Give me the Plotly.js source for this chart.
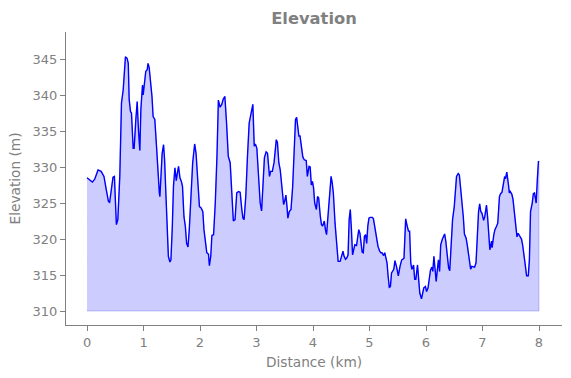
<!DOCTYPE html>
<html>
<head>
<meta charset="utf-8">
<script src="https://cdn.plot.ly/plotly-3.0.1.min.js"></script>
<style>html,body{margin:0;padding:0;background:#fff;}#chart{width:571px;height:378px;}</style>
</head>
<body>
<div id="chart"></div>
<script>
var distanceKm = [
0.00,0.05,0.095,0.136,0.195,0.25,0.30,0.34,0.38,0.40,0.43,0.46,0.485,0.52,0.545,0.58,0.61,0.64,0.68,0.71,
0.73,0.746,0.77,0.787,0.817,0.834,0.864,0.888,0.91,0.935,0.953,0.982,0.994,1.01,1.04,1.065,1.08,1.10,1.12,1.15,
1.17,1.20,1.23,1.254,1.28,1.29,1.31,1.33,1.355,1.373,1.40,1.42,1.44,1.467,1.485,1.51,1.53,1.556,1.58,1.60,
1.62,1.645,1.67,1.69,1.716,1.74,1.763,1.787,1.81,1.84,1.87,1.905,1.93,1.96,1.99,2.02,2.05,2.07,2.095,2.12,
2.15,2.166,2.19,2.21,2.24,2.27,2.30,2.325,2.355,2.385,2.41,2.44,2.47,2.50,
2.534,2.56,2.59,2.62,2.65,2.68,2.71,2.74,2.76,2.78,2.81,2.84,2.87,2.90,2.935,2.96,2.98,3.006,3.035,3.065,
3.09,3.11,3.14,3.17,3.195,3.22,3.23,3.25,3.28,3.31,3.33,3.35,3.37,3.395,3.42,3.45,3.48,3.50,3.52,3.54,
3.555,3.58,3.61,3.64,3.67,3.69,3.71,3.73,3.75,3.77,3.80,3.82,3.845,3.88,3.90,3.93,3.95,3.97,3.99,4.01,
4.03,4.06,4.08,4.10,4.13,4.15,4.17,4.20,4.22,4.24,4.26,4.29,4.32,4.34,4.36,4.39,4.42,4.445,4.48,4.51,
4.53,4.55,4.575,4.60,4.62,4.64,4.66,4.68,4.70,4.72,4.74,4.77,4.79,4.81,4.83,4.85,4.87,4.89,4.91,4.93,
4.95,4.97,4.99,5.01,5.05,5.07,5.09,5.12,5.15,5.18,5.20,5.22,5.25,5.27,5.29,5.31,5.33,5.35,5.37,5.39,
5.43,5.45,5.48,5.51,5.54,
5.57,5.61,5.64,5.67,5.69,5.71,5.73,5.75,5.78,5.80,5.82,5.85,5.87,5.89,5.92,5.94,5.96,5.99,6.01,6.035,
6.06,6.08,6.105,6.12,6.14,6.16,6.18,6.20,6.22,6.24,6.26,6.29,6.31,6.33,6.35,6.38,6.40,6.42,6.45,6.47,
6.50,6.52,6.54,6.57,6.59,6.61,6.64,6.66,6.68,6.71,6.73,6.76,6.79,6.81,6.84,6.86,6.885,6.91,6.93,6.95,
6.97,6.99,7.02,7.04,7.07,7.09,7.115,7.13,7.16,7.17,7.20,7.22,7.25,7.27,7.30,7.32,7.345,7.37,7.39,7.41,
7.43,7.46,7.475,7.49,7.52,7.54,7.56,7.59,7.61,7.63,7.66,7.69,7.71,7.73,7.76,7.78,7.81,7.83,7.85,7.88,
7.90,7.92,7.95,7.97,7.99,8.00
];
var elevationM = [
328.5,328.2,327.9,328.3,329.6,329.4,328.7,326.9,325.2,325.1,326.9,328.6,328.7,322.0,322.7,328.7,338.9,340.7,345.3,345.1,
344.4,339.4,337.7,337.5,332.6,332.6,336.6,339.1,335.2,332.3,338.0,341.4,340.0,341.0,343.3,343.5,344.4,343.8,342.4,339.8,
337.0,336.6,332.9,328.7,326.4,325.9,330.3,331.9,333.1,331.0,325.5,320.4,317.6,316.8,317.1,321.8,327.3,329.9,328.1,329.2,
330.1,328.5,328.0,327.3,323.1,321.8,319.4,318.9,321.3,325.9,330.6,333.2,331.9,328.2,324.5,324.3,323.8,321.3,319.4,318.1,
317.9,316.3,317.6,320.5,320.6,325.0,331.5,339.3,338.3,338.7,339.4,339.8,336.1,331.5,
330.6,327.3,322.5,322.7,326.4,326.6,326.5,324.1,322.9,322.7,325.9,331.5,336.1,337.3,338.7,332.9,333.2,332.6,328.7,325.0,
323.9,326.9,331.3,332.1,331.9,329.6,328.7,329.4,329.4,330.6,332.2,333.8,333.4,330.6,329.6,327.5,324.8,325.3,326.1,324.5,
322.9,323.8,324.1,327.3,333.8,336.6,336.9,335.2,334.3,334.3,332.4,331.4,331.0,330.9,328.7,330.1,330.0,327.5,328.0,327.1,
325.0,324.1,325.9,325.7,323.1,322.0,321.8,322.5,321.3,320.6,322.7,326.2,328.7,327.8,326.4,322.2,319.0,316.9,316.9,317.6,
318.3,317.6,317.2,317.4,317.8,322.7,324.1,321.3,317.8,318.5,319.2,319.1,320.0,321.3,320.8,319.0,318.2,318.1,320.4,320.6,
319.4,321.8,322.9,323.0,323.0,322.8,321.8,319.9,319.0,318.3,318.1,318.1,317.7,318.1,317.4,316.7,314.8,313.3,313.4,315.3,
315.8,317.0,316.1,314.9,316.2,
317.1,317.3,322.8,321.7,321.1,321.1,316.7,315.8,316.4,314.4,314.4,316.4,314.8,312.5,311.7,312.3,313.2,313.4,312.7,313.2,
314.6,315.7,316.1,315.5,317.6,316.2,314.1,315.7,317.1,315.5,319.2,320.0,320.4,320.7,319.7,317.1,316.0,315.6,319.0,322.7,
324.5,327.3,328.7,329.1,328.9,327.3,325.2,323.1,320.7,320.1,319.2,317.6,315.8,316.2,316.1,316.1,316.7,321.3,323.8,324.9,
323.8,323.6,322.6,323.1,324.7,323.1,320.4,318.5,319.7,318.8,320.6,321.3,321.8,322.2,325.9,326.3,326.5,327.5,328.6,328.5,
329.3,327.5,326.4,326.6,326.2,325.5,323.8,321.8,320.3,320.8,320.3,320.0,319.2,317.6,316.2,314.9,314.9,317.1,323.8,325.0,
326.3,326.4,325.0,328.2,330.8,330.7
];
var baseElevation = 310;
var xTicks = [0,1,2,3,4,5,6,7,8];
var yTicks = [310,315,320,325,330,335,340,345];

var n = distanceKm.length;
var polyX = distanceKm.concat([distanceKm[n-1], distanceKm[0]]);
var polyY = elevationM.concat([baseElevation, baseElevation]);

var gray = '#808080';
var tickFont = {family: 'DejaVu Sans', size: 13, color: gray};
var labelFont = {family: 'DejaVu Sans', size: 13.7, color: gray};

var traces = [
  {x: polyX, y: polyY, mode: 'lines', fill: 'toself', fillcolor: 'rgba(0,0,255,0.2)',
   line: {color: 'rgba(0,0,255,0.2)', width: 1}, hoverinfo: 'skip', showlegend: false},
  {x: distanceKm, y: elevationM, mode: 'lines', line: {color: '#0000ff', width: 1.4}, showlegend: false}
];

var layout = {
  width: 571, height: 378,
  margin: {l: 66, r: 9, t: 32, b: 53},
  paper_bgcolor: '#fff', plot_bgcolor: '#fff',
  font: tickFont,
  title: {text: 'Elevation', font: {family: 'DejaVu Sans', size: 16.3, color: gray, weight: 'bold'},
          xref: 'paper', x: 0.5, xanchor: 'center', yref: 'container', y: 1 - 18/378, yanchor: 'middle'},
  xaxis: {range: [-0.372, 8.407], tickvals: xTicks, ticktext: xTicks.map(String),
          ticks: 'outside', ticklen: 5, tickcolor: gray, tickwidth: 1,
          showline: true, linecolor: gray, linewidth: 1, showgrid: false, zeroline: false,
          tickfont: tickFont, title: {text: 'Distance (km)', font: labelFont, standoff: 8}},
  yaxis: {range: [308.06, 348.75], tickvals: yTicks, ticktext: yTicks.map(String),
          ticks: 'outside', ticklen: 5, tickcolor: gray, tickwidth: 1,
          showline: true, linecolor: gray, linewidth: 1, showgrid: false, zeroline: false,
          tickfont: tickFont, title: {text: 'Elevation (m)', font: labelFont, standoff: 8}}
};

Plotly.newPlot('chart', traces, layout, {displayModeBar: false, staticPlot: true});
</script>
</body>
</html>
